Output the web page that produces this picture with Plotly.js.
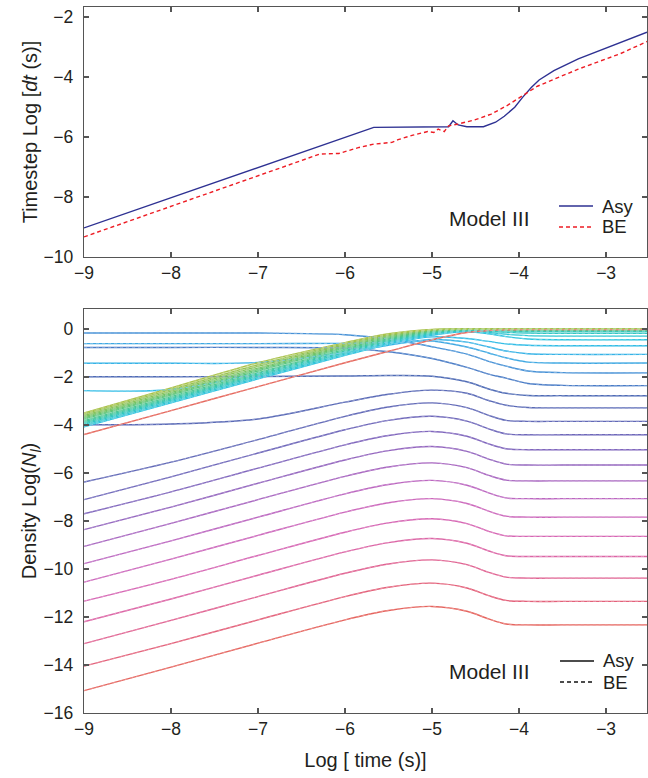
<!DOCTYPE html>
<html>
<head>
<meta charset="utf-8">
<script src="https://cdn.plot.ly/plotly-3.0.1.min.js"></script>
<style>html,body{margin:0;padding:0;background:#fff;}#chart{width:648px;height:778px;}</style>
</head>
<body>
<div id="chart"></div>
<script>
// ---------- Top panel: timestep ----------
const asyTime = [-9, -5.67, -4.81, -4.76, -4.70, -4.60, -4.41, -4.27, -4.17, -4.05, -3.96, -3.86, -3.77, -3.60, -3.32, -3.0, -2.53];
const asyStep = [-9.03, -5.68, -5.66, -5.46, -5.60, -5.66, -5.66, -5.51, -5.31, -5.01, -4.68, -4.35, -4.10, -3.79, -3.40, -3.03, -2.51];
const beTime = [-9, -6.29, -6.07, -5.84, -5.67, -5.46, -5.39, -5.22, -5.05, -4.98, -4.93, -4.86, -4.81, -4.70, -4.51, -4.32, -4.13, -3.96, -3.79, -3.32, -2.84, -2.53];
const beStep = [-9.33, -6.57, -6.55, -6.35, -6.24, -6.18, -6.09, -5.94, -5.82, -5.85, -5.74, -5.82, -5.63, -5.57, -5.43, -5.24, -4.94, -4.63, -4.31, -3.74, -3.23, -2.82];

// ---------- Bottom panel: level densities (Asy and BE coincide) ----------
const densTime = [-9, -8, -7, -6, -5.5, -5, -4.6, -4.35, -4.15, -3.9, -3.5, -2.5];

const risingLevels = [
  [-15.07, -14.09, -13.09, -12.12, -11.73, -11.56, -11.76, -12.08, -12.29, -12.33, -12.33, -12.33],
  [-14.05, -13.11, -12.12, -11.15, -10.76, -10.59, -10.79, -11.11, -11.31, -11.35, -11.35, -11.35],
  [-13.11, -12.14, -11.15, -10.18, -9.79, -9.62, -9.82, -10.14, -10.34, -10.38, -10.38, -10.38],
  [-12.20, -11.25, -10.26, -9.29, -8.90, -8.73, -8.93, -9.25, -9.45, -9.48, -9.48, -9.48],
  [-11.34, -10.43, -9.44, -8.47, -8.08, -7.91, -8.11, -8.43, -8.62, -8.64, -8.64, -8.64],
  [-10.55, -9.59, -8.60, -7.63, -7.24, -7.07, -7.27, -7.59, -7.80, -7.84, -7.84, -7.84],
  [-9.78, -8.83, -7.84, -6.87, -6.48, -6.31, -6.51, -6.83, -7.04, -7.07, -7.07, -7.07],
  [-9.06, -8.10, -7.11, -6.14, -5.75, -5.58, -5.78, -6.10, -6.30, -6.33, -6.33, -6.33],
  [-8.36, -7.42, -6.43, -5.46, -5.07, -4.90, -5.10, -5.42, -5.63, -5.67, -5.67, -5.67],
  [-7.70, -6.79, -5.80, -4.83, -4.44, -4.27, -4.47, -4.79, -4.99, -5.03, -5.03, -5.03],
  [-7.11, -6.16, -5.17, -4.20, -3.81, -3.64, -3.84, -4.16, -4.37, -4.41, -4.41, -4.41],
  [-6.38, -5.55, -4.61, -3.64, -3.25, -3.08, -3.28, -3.60, -3.81, -3.85, -3.85, -3.85]
];
const risingColors = ['#e5645e', '#e3617a', '#e06392', '#dc66a6', '#d667b4', '#cc68bc', '#bc67c0', '#a866c0', '#9466bf', '#8066bd', '#6f68ba', '#6269b7'];

const blueLevels = [
  [-3.99, -3.96, -3.75, -3.05, -2.72, -2.55, -2.68, -2.98, -3.18, -3.27, -3.29, -3.29],
  [-1.99, -1.99, -1.98, -1.96, -1.94, -1.97, -2.20, -2.50, -2.68, -2.77, -2.78, -2.78],
  [-0.77, -0.77, -0.77, -0.80, -0.95, -1.23, -1.60, -1.88, -2.05, -2.27, -2.35, -2.36],
  [-0.17, -0.17, -0.17, -0.24, -0.42, -0.74, -1.05, -1.35, -1.55, -1.75, -1.82, -1.83]
];
const blueColors = ['#5a6ab6', '#4f6bb5', '#4a7cc6', '#4791d6'];

const cyanLevels = [
  [-0.61, -0.61, -0.61, -0.60, -0.56, -0.50, -0.75, -1.00, -1.20, -1.38, -1.42, -1.42],
  [-1.43, -1.43, -1.40, -0.98, -0.68, -0.44, -0.55, -0.75, -0.92, -1.03, -1.06, -1.06],
  [-2.57, -2.52, -1.85, -0.95, -0.58, -0.33, -0.40, -0.52, -0.62, -0.68, -0.70, -0.70]
];
const cyanColors = ['#3ea8e2', '#37b3e6', '#33bde6'];

const bundleLevels = [
  [-4.08, -3.08, -2.08, -1.10, -0.64, -0.26, -0.12, -0.20, -0.32, -0.42, -0.45, -0.45],
  [-4.03, -3.03, -2.03, -1.05, -0.59, -0.22, -0.09, -0.15, -0.22, -0.28, -0.30, -0.30],
  [-3.97, -2.97, -1.97, -0.99, -0.54, -0.18, -0.06, -0.10, -0.14, -0.17, -0.18, -0.18],
  [-3.92, -2.92, -1.92, -0.95, -0.50, -0.16, -0.04, -0.06, -0.08, -0.10, -0.10, -0.10],
  [-3.87, -2.87, -1.87, -0.90, -0.46, -0.13, -0.03, -0.04, -0.05, -0.06, -0.06, -0.06],
  [-3.82, -2.82, -1.82, -0.85, -0.42, -0.11, -0.02, -0.03, -0.04, -0.04, -0.04, -0.04],
  [-3.76, -2.76, -1.75, -0.80, -0.38, -0.09, -0.02, -0.03, -0.03, -0.03, -0.03, -0.03],
  [-3.71, -2.71, -1.69, -0.75, -0.34, -0.07, -0.01, -0.02, -0.02, -0.02, -0.02, -0.02],
  [-3.66, -2.65, -1.63, -0.71, -0.30, -0.05, -0.01, -0.015, -0.015, -0.015, -0.015, -0.015],
  [-3.61, -2.59, -1.56, -0.66, -0.27, -0.04, -0.01, -0.01, -0.01, -0.01, -0.01, -0.01],
  [-3.55, -2.53, -1.49, -0.61, -0.23, -0.03, -0.005, -0.005, -0.005, -0.005, -0.005, -0.005],
  [-3.50, -2.46, -1.41, -0.57, -0.20, -0.02, 0, 0, 0, 0, 0, 0]
];
const bundleColors = ['#2fc3df', '#30c5d3', '#33c6c4', '#38c7b4', '#40c7a3', '#4bc692', '#58c581', '#66c472', '#76c365', '#87c25a', '#98c251', '#a9c24a'];

const redLevel = [-4.40, -3.40, -2.40, -1.41, -0.93, -0.45, -0.15, -0.07, -0.04, -0.03, -0.03, -0.03];
const redColor = '#e5675c';

const legendNames = ['Asy', 'BE'];
const modelLabel = 'Model III';

// ---------- build traces ----------
function tint(hex, f) {
  const n = parseInt(hex.slice(1), 16);
  const r = (n >> 16) & 255, g = (n >> 8) & 255, b = n & 255;
  const m = c => Math.round(c + (255 - c) * f);
  return 'rgb(' + m(r) + ',' + m(g) + ',' + m(b) + ')';
}

const allLevels = [];
risingLevels.forEach((v, i) => allLevels.push({y: v, c: risingColors[i]}));
blueLevels.forEach((v, i) => allLevels.push({y: v, c: blueColors[i]}));
cyanLevels.forEach((v, i) => allLevels.push({y: v, c: cyanColors[i]}));
bundleLevels.forEach((v, i) => allLevels.push({y: v, c: bundleColors[i]}));
allLevels.push({y: redLevel, c: redColor});

const traces = [];
// Asy (solid)
allLevels.forEach(L => traces.push({
  type: 'scatter', mode: 'lines', x: densTime, y: L.y, xaxis: 'x', yaxis: 'y',
  name: legendNames[0],
  line: {color: L.c, width: 1.4, shape: 'spline', smoothing: 0.9},
  showlegend: false, hoverinfo: 'skip'
}));
// BE (dashed, coincident)
allLevels.forEach(L => traces.push({
  type: 'scatter', mode: 'lines', x: densTime, y: L.y, xaxis: 'x', yaxis: 'y',
  name: legendNames[1],
  line: {color: tint(L.c, 0.35), width: 0.9, dash: '3px,3px', shape: 'spline', smoothing: 0.9},
  showlegend: false, hoverinfo: 'skip'
}));

// top panel
const ASY_COLOR = '#2e3192', BE_COLOR = '#ed1c24';
traces.push({
  type: 'scatter', mode: 'lines', x: asyTime, y: asyStep, xaxis: 'x2', yaxis: 'y2',
  name: legendNames[0], showlegend: false,
  line: {color: ASY_COLOR, width: 1.4}
});
traces.push({
  type: 'scatter', mode: 'lines', x: beTime, y: beStep, xaxis: 'x2', yaxis: 'y2',
  name: legendNames[1], showlegend: false,
  line: {color: BE_COLOR, width: 1.4, dash: '4px,3px'}
});

const FONT = 'Liberation Sans, Arial, Helvetica, sans-serif';
const TXT = '#231f20';
const AX = '#555555';
const axisBase = {
  showline: true, mirror: 'ticks', linecolor: AX, linewidth: 1.3,
  ticks: 'inside', ticklen: 5, tickwidth: 1.3, tickcolor: AX,
  showgrid: false, zeroline: false,
  tickfont: {family: FONT, size: 17.5, color: TXT}
};

// legend keys (drawn as paper shapes + text)
const keyX0 = 0.8437, keyX1 = 0.9041, keyTextX = 0.9165;
const keyY = {top: [0.7181, 0.6884], bottom: [0.0737, 0.0439]};
const keyStyles = {
  top: [{color: ASY_COLOR, dash: 'solid'}, {color: BE_COLOR, dash: '4px,3px'}],
  bottom: [{color: '#111111', dash: 'solid'}, {color: '#111111', dash: '4px,3px'}]
};
const shapes = [];
const annotations = [
  {text: modelLabel, xref: 'paper', yref: 'paper', x: 0.7194, y: 0.7011, xanchor: 'center', yanchor: 'middle',
   showarrow: false, font: {family: FONT, size: 21, color: TXT}},
  {text: modelLabel, xref: 'paper', yref: 'paper', x: 0.7211, y: 0.0581, xanchor: 'center', yanchor: 'middle',
   showarrow: false, font: {family: FONT, size: 21, color: TXT}}
];
['top', 'bottom'].forEach(panel => {
  legendNames.forEach((nm, k) => {
    const yy = keyY[panel][k];
    const dx = panel === 'bottom' ? 0.0018 : 0;
    shapes.push({type: 'line', xref: 'paper', yref: 'paper', x0: keyX0 + dx, x1: keyX1 + dx, y0: yy, y1: yy,
      line: {color: keyStyles[panel][k].color, width: 1.4, dash: keyStyles[panel][k].dash}});
    annotations.push({text: nm, xref: 'paper', yref: 'paper', x: keyTextX + dx, y: yy, xanchor: 'left', yanchor: 'middle',
      showarrow: false, font: {family: FONT, size: 18.5, color: TXT}});
  });
});

const layout = {
  width: 648, height: 778,
  margin: {l: 84, r: 1, t: 7, b: 65},
  paper_bgcolor: '#ffffff', plot_bgcolor: '#ffffff',
  font: {family: FONT, color: TXT},
  showlegend: false,
  xaxis: Object.assign({}, axisBase, {
    anchor: 'y', domain: [0, 1], range: [-9, -2.53], tick0: -9, dtick: 1,
    title: {text: 'Log [ time (s)]', font: {family: FONT, size: 20, color: TXT}, standoff: 14}
  }),
  yaxis: Object.assign({}, axisBase, {
    anchor: 'x', domain: [0, 0.5722], range: [-16, 0.83], tick0: 0, dtick: 2,
    ticklabelstandoff: 6,
    title: {text: 'Density Log(<i>N</i><sub><i>l</i></sub>)', font: {family: FONT, size: 20, color: TXT}, standoff: 0}
  }),
  xaxis2: Object.assign({}, axisBase, {
    anchor: 'y2', domain: [0, 1], range: [-9, -2.53], tick0: -9, dtick: 1
  }),
  yaxis2: Object.assign({}, axisBase, {
    anchor: 'x2', domain: [0.6459, 1], range: [-10, -1.67], tick0: -10, dtick: 2,
    ticklabelstandoff: 6,
    title: {text: 'Timestep Log [<i>dt</i> (s)]', font: {family: FONT, size: 20, color: TXT}, standoff: 0}
  }),
  shapes: shapes,
  annotations: annotations
};

Plotly.newPlot('chart', traces, layout, {staticPlot: true, displayModeBar: false});
</script>
</body>
</html>
